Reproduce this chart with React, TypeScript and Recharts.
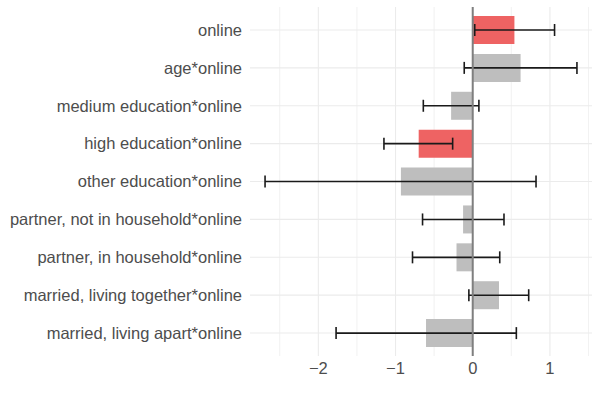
import React from 'react';
import {
  BarChart,
  Bar,
  Cell,
  ErrorBar,
  XAxis,
  YAxis,
  CartesianGrid,
  ReferenceLine,
} from 'recharts';

const terms = [
  'online',
  'age*online',
  'medium education*online',
  'high education*online',
  'other education*online',
  'partner, not in household*online',
  'partner, in household*online',
  'married, living together*online',
  'married, living apart*online',
];

const estimates = [0.54, 0.62, -0.28, -0.7, -0.93, -0.125, -0.21, 0.34, -0.605];
const lowerCI = [0.026, -0.11, -0.64, -1.15, -2.69, -0.65, -0.78, -0.05, -1.77];
const upperCI = [1.06, 1.35, 0.08, -0.26, 0.82, 0.405, 0.35, 0.725, 0.565];

const majorTicks = [-2, -1, 0, 1];
const minorTicks = [-2.5, -1.5, -0.5, 0.5, 1.5];
const xDomain = [-2.885, 1.545];

const SIG_COLOR = '#EE6363';
const NS_COLOR = '#BEBEBE';

const data = terms.map((term, i) => ({
  term,
  estimate: estimates[i],
  err: [estimates[i] - lowerCI[i], upperCI[i] - estimates[i]],
  significant: lowerCI[i] > 0 || upperCI[i] < 0,
}));

const fmt = (v: number) => (v < 0 ? '\u2212' + Math.abs(v) : String(v));

const tickStyle = {
  fill: '#4d4d4d',
  fontSize: 16.5,
  fontFamily: '"Liberation Sans", Arial, sans-serif',
};

export default function App() {
  return (
    <div style={{ position: 'absolute', left: 0, top: 0, background: 'white' }}>
      <BarChart
        width={600}
        height={400}
        data={data}
        layout="vertical"
        margin={{ top: 7, right: 8, bottom: 14, left: 0 }}
      >
        <CartesianGrid
          horizontal={false}
          verticalValues={minorTicks}
          stroke="#EEEEEE"
          strokeWidth={0.8}
        />
        <CartesianGrid
          horizontal={false}
          verticalValues={majorTicks}
          stroke="#EBEBEB"
          strokeWidth={1.1}
        />
        <CartesianGrid
          vertical={false}
          horizontalValues={terms}
          stroke="#EBEBEB"
          strokeWidth={1.1}
        />
        <XAxis
          type="number"
          domain={xDomain}
          allowDataOverflow
          ticks={majorTicks}
          tickFormatter={fmt}
          axisLine={false}
          tickLine={false}
          tickSize={0}
          tickMargin={6}
          height={30}
          tick={tickStyle}
        />
        <YAxis
          type="category"
          dataKey="term"
          width={250}
          axisLine={false}
          tickLine={false}
          tickSize={0}
          tickMargin={8}
          padding={{ top: 4, bottom: 4 }}
          interval={0}
          tick={tickStyle}
        />
        <Bar dataKey="estimate" barSize={28} isAnimationActive={false}>
          {data.map((d) => (
            <Cell key={d.term} fill={d.significant ? SIG_COLOR : NS_COLOR} />
          ))}
          <ErrorBar
            dataKey="err"
            direction="x"
            width={6}
            stroke="#1a1a1a"
            strokeWidth={1.6}
            isAnimationActive={false}
          />
        </Bar>
        <ReferenceLine x={0} stroke="#7F7F7F" strokeWidth={2} />
      </BarChart>
    </div>
  );
}
